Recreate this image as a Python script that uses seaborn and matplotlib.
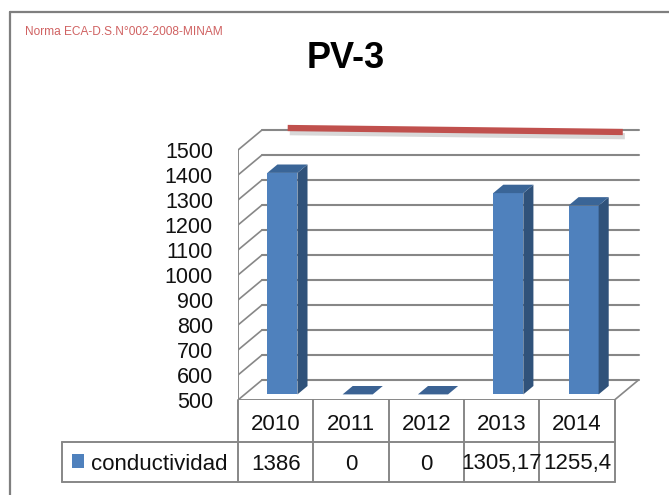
import numpy as np
import pandas as pd
import matplotlib
matplotlib.use("Agg")
import matplotlib.pyplot as plt
import matplotlib.patheffects as pe
from matplotlib.patches import Polygon, Rectangle
from matplotlib.lines import Line2D
import seaborn as sns

# ---- data ----
years = ["2010", "2011", "2012", "2013", "2014"]
conductividad = [1386, 0, 0, 1305.17, 1255.4]
series_name = "conductividad"
norma_limite = 1500
title = "PV-3"
note = "Norma ECA-D.S.N°002-2008-MINAM"
y_ticks = [500, 600, 700, 800, 900, 1000, 1100, 1200, 1300, 1400, 1500]

sns.set_style("white")
plt.rcParams["font.family"] = ["Liberation Sans", "DejaVu Sans"]

W, H = 669, 495
fig = plt.figure(figsize=(W / 100, H / 100), dpi=100)

# geometry (pixels)
X0 = 238.0          # px of category -0.5
CW = 75.3           # px per category
Y500 = 400.0        # px of value 500
PXV = 0.25          # px per unit
XR = 648.0
YT = Y500 - 1200 * PXV

ax = fig.add_axes([X0 / W, (H - Y500) / H, (XR - X0) / W, (Y500 - YT) / H])
ax.set_xlim(-0.5, -0.5 + (XR - X0) / CW)
ax.set_ylim(500, 1700)

DX = 24 / CW        # wall depth in category units
DY = 20 / PXV       # wall depth in value units
wall = "#878787"
ymin = y_ticks[0]
ymax = y_ticks[-1]
n = len(years)

# back wall gridlines + left wall diagonals
for v in y_ticks:
    ax.add_line(Line2D([-0.5 + DX, n - 0.5 + DX], [v + DY, v + DY], color=wall, lw=1.5, zorder=1))
    ax.add_line(Line2D([-0.5, -0.5 + DX], [v, v + DY], color=wall, lw=1.2, zorder=1))
# left front axis line
ax.add_line(Line2D([-0.5, -0.5], [ymin, ymax], color=wall, lw=1.4, zorder=1))
# floor front edge & right diagonal
ax.add_line(Line2D([-0.5, n - 0.5], [ymin, ymin], color=wall, lw=1.4, zorder=1))
ax.add_line(Line2D([n - 0.5, n - 0.5 + DX], [ymin, ymin + DY], color=wall, lw=1.2, zorder=1))

# bars
df = pd.DataFrame({"year": years, "valor": conductividad})
sns.barplot(data=df, x="year", y="valor", color="#4F81BD", width=0.4,
            saturation=1, ax=ax, zorder=3, edgecolor="none")
ax.set_xlim(-0.5, -0.5 + (XR - X0) / CW)
ax.set_ylim(500, 1700)

f = 0.28            # bar position inside the depth
bdx, bdy = 0.42 * DX, 0.42 * DY
for p, v in zip(ax.patches, conductividad):
    x0 = p.get_x() + f * DX
    w = p.get_width()
    y0 = ymin + f * DY
    hgt = max(v - ymin, 0)
    p.set_x(x0)
    p.set_y(y0)
    p.set_height(hgt)
    y1 = y0 + hgt
    x1 = x0 + w
    if hgt > 0:
        ax.add_patch(Polygon([(x1, y0), (x1 + bdx, y0 + bdy), (x1 + bdx, y1 + bdy), (x1, y1)],
                             closed=True, facecolor="#30527A", edgecolor="none", zorder=3))
        topc = "#3A6597"
    else:
        topc = "#3B6293"
    ax.add_patch(Polygon([(x0, y1), (x1, y1), (x1 + bdx, y1 + bdy), (x0 + bdx, y1 + bdy)],
                         closed=True, facecolor=topc, edgecolor="none", zorder=3))

# norma line (red ribbon near the back wall)
pos = np.arange(n)
ax.plot([pos[0] + 0.16, pos[-1] + 0.61], [norma_limite + DY + 8, norma_limite + DY - 8],
        color="#C0504D", lw=4.5, solid_capstyle="butt", zorder=4,
        path_effects=[pe.SimpleLineShadow(offset=(1.5, -3), shadow_color="gray", alpha=0.3),
                      pe.Normal()])

ax.set_yticks(y_ticks)
ax.set_yticklabels([str(t) for t in y_ticks], fontsize=15.5, color="#111111")
ax.tick_params(axis="y", length=0, pad=18)
ax.set_xticks([])
ax.set_xlabel("")
ax.set_ylabel("")
for s in ax.spines.values():
    s.set_visible(False)
ax.patch.set_alpha(0)

# data table
TL = 62.0
TB = 482.0
tax = fig.add_axes([TL / W, (H - TB) / H, (XR - TL) / W, (TB - Y500) / H])
tax.set_xlim(-0.5 - (X0 - TL) / CW, -0.5 + (XR - X0) / CW)
tax.set_ylim(2.05, 0)
tax.axis("off")
xl = -0.5 - (X0 - TL) / CW
for k in range(n + 1):
    tax.add_line(Line2D([k - 0.5, k - 0.5], [0, 2.05], color=wall, lw=1.4, clip_on=False))
tax.add_line(Line2D([xl, xl], [1.05, 2.05], color=wall, lw=1.4, clip_on=False))
for yy in (1.05, 2.05):
    tax.add_line(Line2D([xl, n - 0.5], [yy, yy], color=wall, lw=1.4, clip_on=False))

def fmt(v):
    return f"{v:g}".replace(".", ",")

for i, (yr, v) in enumerate(zip(years, conductividad)):
    tax.text(i, 0.62, yr, ha="center", va="center", fontsize=16, color="#111111")
    tax.text(i, 1.6, fmt(v), ha="center", va="center", fontsize=16, color="#111111")

tax.add_patch(Rectangle((xl + 10 / CW, 1.35), 12 / CW, 0.36, facecolor="#4F81BD",
                        edgecolor="none", clip_on=False))
tax.text(xl + 29 / CW, 1.6, series_name, ha="left", va="center", fontsize=16, color="#111111")

# title and note
fig.text(346 / W, 1 - 58 / H, title, ha="center", va="center", fontsize=26,
         fontweight="bold", color="black")
fig.text(25 / W, 1 - 32 / H, note, ha="left", va="center", fontsize=8.6, color="#D06262")

# outer border (left and top)
fig.add_artist(Line2D([10 / W, 10 / W], [0, 1 - 12 / H], color="#7F7F7F", lw=1.6))
fig.add_artist(Line2D([10 / W, 1], [1 - 12 / H, 1 - 12 / H], color="#7F7F7F", lw=1.6))

fig.savefig("out.png", dpi=100)
